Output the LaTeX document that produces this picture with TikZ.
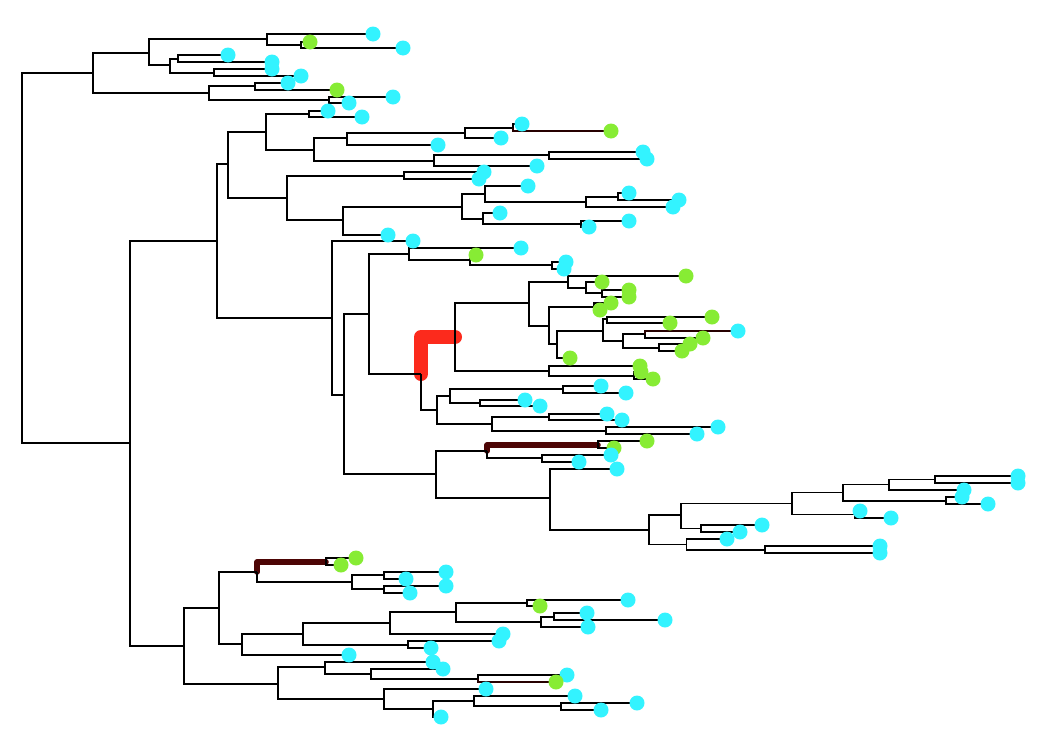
\documentclass[tikz,border=0pt]{standalone}
\definecolor{tipcyan}{RGB}{51,243,255}
\definecolor{tipgreen}{RGB}{135,236,52}
\definecolor{hired}{RGB}{252,42,28}
\definecolor{hibrown}{RGB}{77,5,5}
\definecolor{dkbrown}{RGB}{38,0,0}
\tikzset{
  edge/.style={line width=1.5pt, black},
  dkedge/.style={line width=2.4pt, dkbrown},
  redhi/.style={line width=14pt, hired, line cap=round, line join=round},
  brownhi/.style={line width=5.5pt, hibrown, line cap=round, line join=round},
  cy/.style={circle, fill=tipcyan, draw=none, inner sep=0pt, minimum size=15pt},
  gr/.style={circle, fill=tipgreen, draw=none, inner sep=0pt, minimum size=15pt}
}
\begin{document}
\begin{tikzpicture}[x=1pt,y=-1pt]
\useasboundingbox (0,0) rectangle (1056,750);
% internal nodes: name / x / junction y
\foreach \n/\x/\y in {%
 R/22/258, A/93/73, A1/149/53, A11/267/39, A112/301/45, A12/170/65, A121/178/59, A122/214/73,
 A2/209/93, A21/255/86, A22/329/100,
 B/130/443, B1/217/241,
 C/228/164, C1/266/132, C11/309/114, C12/314/150, C121/347/138, C1211/465/133, C12111/513/128,
 C122/434/161, C1221/549/155,
 C2/287/198, C21/404/176, C22/343/220, C221/462/207, C2211/485/194, C22112/586/202, C221121/618/197,
 C2212/483/219, C22122/581/224,
 D/332/318, D2/344/395, E/369/314, E1/409/254, E12/470/260, E122/552/265,
 F/421/374, G/455/337, G1/529/303, G11/568/282, G112/586/288, G1122/602/293,
 G12/549/326, G121/594/307, G122/557/344, G1221/603/331, G12211/607/319, G12212/623/341,
 G122121/645/334, G122122/659/348, G2/549/371, G22/634/376,
 H/437/410, H1/450/396, H11/563/389, H12/480/403, H2/492/424, H21/549/417, H22/606/431,
 I/436/474, I1/487/451, I11/598/445, I12/542/458,
 I2/550/498, I22/649/530, I221/681/515, I2211/792/503.5, I22111/843/492.6, I221111/889/484.5,
 I2211111/935/479.4, I221112/946/501, I22112/855/514.4, I2212/701/528.6, I222/686.5/544.3, I2222/765/550,
 J/184/646, J1/219/608, J11/257/572, J111/326/562, J112/352/582, J1121/384/575, J1122/384/589,
 J12/242/644, J121/303/634, J1211/390/623, J12111/456/612, J121111/527/603, J121112/541/622,
 J1211121/554/617, J1212/408/645,
 J2/278/684, J21/325/667, J212/371/674, J2122/478/679, J22/384/699, J222/433/709, J2221/474/701, J22212/561/706}%
{\coordinate (\n) at (\x,\y);}
% tips: name / parent / x / y / dot style / edge style
\def\tiplist{%
 t1/A11/373/34/cy/edge, t2/A112/310/42/gr/edge, t3/A112/403/48/cy/edge,
 t4/A121/228/55/cy/edge, t5/A121/272/62/cy/edge, t6/A122/272/69/cy/edge, t7/A122/301/76/cy/edge,
 t8/A21/288/83/cy/edge, t9/A21/337/90/gr/edge, t10/A22/393/97/cy/edge, t11/A22/349/103/cy/edge,
 t12/C11/328/111/cy/edge, t13/C11/362/117/cy/edge,
 t14/C12111/522/124/cy/edge, t15/C12111/611/131/gr/dkedge, t16/C1211/501/138/cy/edge,
 t17/C121/438/145/cy/edge, t18/C1221/643/152/cy/edge, t19/C1221/647/159/cy/edge, t20/C122/537/166/cy/edge,
 t21/C21/484/172/cy/edge, t22/C21/479/179/cy/edge, t23/C2211/528/186/cy/edge,
 t24/C221121/629/193/cy/edge, t25/C221121/679/200/cy/edge, t26/C22112/673/207/cy/edge,
 t27/C2212/500/213/cy/edge, t28/C22122/629/221/cy/edge, t29/C22122/589/227/cy/edge,
 t30/C22/388/235/cy/edge, t31/D/413/241/cy/edge,
 t32/E1/521/248/cy/edge, t33/E12/476/255/gr/edge, t34/E122/566/262/cy/edge, t35/E122/564/269/cy/edge,
 t36/G11/686/276/gr/edge, t37/G112/602/282/gr/edge, t38/G1122/629/290/gr/edge, t39/G1122/629/297/gr/edge,
 t40/G121/611/303/gr/edge, t41/G121/600/310/gr/edge, t42/G12211/712/317/gr/edge, t43/G12211/670/323/gr/edge,
 t44/G122121/738/331/cy/dkedge, t45/G122121/703/338/gr/edge, t46/G122122/690/344/gr/edge, t47/G122122/682/351/gr/edge,
 t48/G122/570/358/gr/edge, t49/G2/640/366/gr/edge, t50/G22/641/372/gr/edge, t51/G22/653/379/gr/edge,
 t52/H11/601/386/cy/edge, t53/H11/626/393/cy/edge, t54/H12/525/400/cy/edge, t55/H12/540/406/cy/edge,
 t56/H21/607/414/cy/edge, t57/H21/622/420/cy/edge, t58/H22/718/427/cy/edge, t59/H22/697/434/cy/edge,
 t60/I11/647/441/gr/edge, t61/I11/614/448/gr/edge, t62/I12/611/455/cy/edge, t63/I12/579/462/cy/edge,
 t64/I2/617/469/cy/edge, t65/I2211111/1018/476/cy/edge, t66/I2211111/1018/483/cy/edge,
 t67/I221111/964/490/cy/edge, t68/I221112/962/497/cy/edge, t69/I221112/988/504/cy/edge,
 t70/I22112/860/511/cy/edge, t71/I22112/891/518/cy/edge, t72/I2212/762/525/cy/edge, t73/I2212/740/532/cy/edge,
 t74/I222/727/539/cy/edge, t75/I2222/880/546/cy/edge, t76/I2222/880/553/cy/edge,
 t77/J111/356/558/gr/edge, t78/J111/341/565/gr/edge, t79/J1121/446/572/cy/edge, t80/J1121/406/579/cy/edge,
 t81/J1122/446/586/cy/edge, t82/J1122/410/593/cy/edge, t83/J121111/628/600/cy/edge, t84/J121111/540/606/gr/edge,
 t85/J1211121/587/613/cy/edge, t86/J1211121/665/620/cy/edge, t87/J121112/588/627/cy/edge,
 t88/J1211/503/634/cy/edge, t89/J1212/499/641/cy/edge, t90/J1212/431/648/cy/edge, t91/J12/349/655/cy/edge,
 t92/J21/433/662/cy/edge, t93/J212/443/669/cy/edge, t94/J2122/567/675/cy/edge, t95/J2122/556/682/gr/dkedge,
 t96/J22/486/689/cy/edge, t97/J2221/575/696/cy/edge, t98/J22212/637/703/cy/edge, t99/J22212/601/710/cy/edge,
 t100/J222/441/717/cy/edge}
\foreach \n/\p/\x/\y/\s/\e in \tiplist {\coordinate (\n) at (\x,\y);}
% highlighted branches
\draw[redhi] (F) |- (G);
\draw[brownhi] (I1) |- (I11);
\draw[brownhi] (J11) |- (J111);
% internal branches
\foreach \p/\c in {%
 R/A, R/B, A/A1, A/A2, A1/A11, A1/A12, A11/A112, A12/A121, A12/A122, A2/A21, A2/A22,
 B/B1, B/J, B1/C, B1/D, C/C1, C/C2, C1/C11, C1/C12, C12/C121, C12/C122, C121/C1211, C1211/C12111,
 C122/C1221, C2/C21, C2/C22, C22/C221, C221/C2211, C221/C2212, C2211/C22112, C22112/C221121, C2212/C22122,
 D/D2, D2/E, D2/I, E/E1, E/F, E1/E12, E12/E122, F/H,
 G/G1, G/G2, G1/G11, G1/G12, G11/G112, G112/G1122, G12/G121, G12/G122, G122/G1221,
 G1221/G12211, G1221/G12212, G12212/G122121, G12212/G122122, G2/G22,
 H/H1, H/H2, H1/H11, H1/H12, H2/H21, H2/H22,
 I/I1, I/I2, I1/I12, I2/I22, I22/I221, I22/I222, I221/I2211, I221/I2212, I2211/I22111, I2211/I22112,
 I22111/I221111, I22111/I221112, I221111/I2211111, I222/I2222,
 J/J1, J/J2, J1/J11, J1/J12, J11/J112, J112/J1121, J112/J1122, J12/J121, J121/J1211, J121/J1212,
 J1211/J12111, J12111/J121111, J12111/J121112, J121112/J1211121,
 J2/J21, J2/J22, J21/J212, J212/J2122, J22/J222, J222/J2221, J2221/J22212}%
{\draw[edge] (\p) |- (\c);}
% tip branches
\foreach \n/\p/\x/\y/\s/\e in \tiplist {\draw[\e] (\p) |- (\n);}
% tip dots
\foreach \n/\p/\x/\y/\s/\e in \tiplist {\node[\s] (d\n) at (\n) {};}
\end{tikzpicture}
\end{document}
